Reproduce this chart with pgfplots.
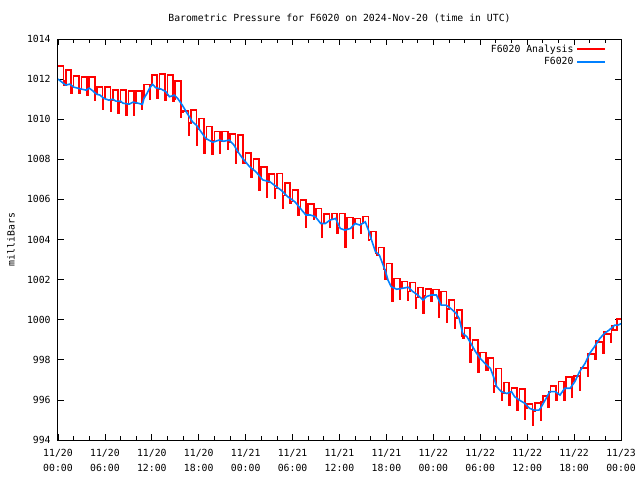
\documentclass[border=0pt]{standalone}
\usepackage{fontspec}
\setmainfont{DejaVu Sans Mono}
\usepackage{pgfplots}
\pgfplotsset{compat=1.18}
\definecolor{obsblue}{RGB}{0,128,255}
\newcommand{\gfont}{\fontsize{7.35}{11.2}\selectfont}
\begin{document}
\begin{tikzpicture}[x=1pt,y=1pt]
\useasboundingbox (0,0) rectangle (480,360);
\begin{axis}[
 at={(43.5pt,30pt)}, anchor=south west,
 scale only axis, width=422.25pt, height=300.75pt,
 xmin=0, xmax=72, ymin=994, ymax=1014,
 xtick={0,6,...,72},
 xticklabels={{11/20\\00:00},{11/20\\06:00},{11/20\\12:00},{11/20\\18:00},{11/21\\00:00},{11/21\\06:00},{11/21\\12:00},{11/21\\18:00},{11/22\\00:00},{11/22\\06:00},{11/22\\12:00},{11/22\\18:00},{11/23\\00:00}},
 minor x tick num=2,
 ytick={994,996,...,1014},
 yticklabels={994,996,998,1000,1002,1004,1006,1008,1010,1012,1014},
 tick align=inside, major tick length=4.5pt, minor tick length=3pt,
 tick style={black, line width=0.6pt},
 axis line style={line width=0.75pt},
 ticklabel style={font=\gfont},
 xticklabel style={align=center, yshift=-3.75pt},
 yticklabel style={xshift=-2pt},
 title={Barometric Pressure for F6020 on 2024-Nov-20 (time in UTC)},
 title style={font=\gfont, at={(axis description cs:0.5,1)}, anchor=base, yshift=7pt},
 ylabel={milliBars},
 ylabel style={font=\gfont, at={(axis description cs:-0.0835,0.5)}, anchor=center},
 legend style={at={(axis description cs:1,1)}, anchor=north east, xshift=-8pt, yshift=0pt, draw=none, fill=none, font=\gfont, row sep=-1.5pt},
 legend cell align=right, legend plot pos=right,
 legend image code/.code={\draw[#1, line width=1.4pt] (0pt,0pt) -- (21pt,0pt);},
]
\addplot[red, line width=1.25pt, const plot] coordinates {
(0,1012.67) (0.7,1011.9) (0.8,1011.7)
(1,1012.45) (1.7,1011.3) (1.8,1011.6)
(2,1012.17) (2.7,1011.3) (2.8,1011.5)
(3,1012.1) (3.7,1011.2) (3.8,1011.55)
(4,1012.1) (4.7,1010.95) (4.8,1011.25)
(5,1011.6) (5.7,1010.5) (5.8,1011.05)
(6,1011.6) (6.7,1010.4) (6.8,1010.95)
(7,1011.45) (7.7,1010.3) (7.8,1010.85)
(8,1011.45) (8.7,1010.2) (8.8,1010.75)
(9,1011.4) (9.7,1010.2) (9.8,1010.78)
(10,1011.41) (10.7,1010.5) (10.8,1011.04)
(11,1011.73) (11.7,1011.0) (11.8,1011.7)
(12,1012.2) (12.7,1011.07) (12.8,1011.52)
(13,1012.24) (13.7,1010.95) (13.8,1011.2)
(14,1012.2) (14.7,1010.9) (14.8,1011.0)
(15,1011.9) (15.7,1010.1) (15.8,1010.35)
(16,1010.4) (16.7,1009.2) (16.8,1009.8)
(17,1010.45) (17.7,1008.7) (17.8,1009.5)
(18,1010.04) (18.7,1008.3) (18.8,1009.0)
(19,1009.63) (19.7,1008.26) (19.8,1008.9)
(20,1009.38) (20.7,1008.3) (20.8,1008.9)
(21,1009.38) (21.7,1008.5) (21.8,1008.85)
(22,1009.27) (22.7,1007.83) (22.8,1008.35)
(23,1009.2) (23.7,1007.8) (23.8,1007.8)
(24,1008.33) (24.7,1007.13) (24.8,1007.45)
(25,1008.0) (25.7,1006.47) (25.8,1007.05)
(26,1007.63) (26.7,1006.13) (26.8,1006.85)
(27,1007.27) (27.7,1006.05) (27.8,1006.55)
(28,1007.3) (28.7,1005.55) (28.8,1006.2)
(29,1006.83) (29.7,1005.8) (29.8,1005.9)
(30,1006.47) (30.7,1005.22) (30.8,1005.55)
(31,1005.97) (31.7,1004.64) (31.8,1005.22)
(32,1005.77) (32.7,1005.0) (32.8,1005.1)
(33,1005.55) (33.7,1004.14) (33.8,1004.8)
(34,1005.27) (34.7,1004.6) (34.8,1005.0)
(35,1005.3) (35.7,1004.3) (35.8,1004.6)
(36,1005.3) (36.7,1003.64) (36.8,1004.5)
(37,1005.1) (37.7,1004.06) (37.8,1004.8)
(38,1005.05) (38.7,1004.3) (38.8,1004.8)
(39,1005.14) (39.7,1003.97) (39.8,1004.0)
(40,1004.4) (40.7,1003.3) (40.8,1003.2)
(41,1003.6) (41.7,1002.5) (41.8,1002.0)
(42,1002.8) (42.7,1000.9) (42.8,1001.55)
(43,1002.06) (43.7,1001.0) (43.8,1001.57)
(44,1001.9) (44.7,1000.95) (44.8,1001.4)
(45,1001.85) (45.7,1000.57) (45.8,1001.1)
(46,1001.6) (46.7,1000.35) (46.8,1001.2)
(47,1001.52) (47.7,1000.9) (47.8,1001.23)
(48,1001.5) (48.7,1000.15) (48.8,1000.75)
(49,1001.4) (49.7,999.9) (49.8,1000.55)
(50,1000.98) (50.7,999.6) (50.8,1000.1)
(51,1000.5) (51.7,999.2) (51.8,999.1)
(52,999.6) (52.7,997.9) (52.8,998.5)
(53,998.99) (53.7,997.4) (53.8,998.07)
(54,998.36) (54.7,997.5) (54.8,997.5)
(55,998.1) (55.7,996.4) (55.8,996.7)
(56,997.57) (56.7,996.0) (56.8,996.35)
(57,996.86) (57.7,995.75) (57.8,996.4)
(58,996.6) (58.7,995.5) (58.8,996.0)
(59,996.53) (59.7,995.03) (59.8,995.6)
(60,995.8) (60.7,994.75) (60.8,995.45)
(61,995.83) (61.7,995.0) (61.8,995.9)
(62,996.2) (62.7,995.66) (62.8,996.4)
(63,996.7) (63.7,996.0) (63.8,996.3)
(64,996.91) (64.7,996.0) (64.8,996.6)
(65,997.13) (65.7,996.13) (65.8,996.95)
(66,997.2) (66.7,996.5) (66.8,997.6)
(67,997.6) (67.7,997.16) (67.8,998.3)
(68,998.3) (68.7,998.02) (68.8,998.95)
(69,998.9) (69.7,998.32) (69.8,999.4)
(70,999.3) (70.7,998.9) (70.8,999.7)
(71,999.5) (71.5,1000.02) (72,1000.02)
};
\addlegendentry{F6020 Analysis}
\addplot[obsblue, line width=1.2pt] coordinates {
(0,1012.0) (0.5,1011.85) (1.0,1011.7) (1.5,1011.75) (2.0,1011.6) (2.5,1011.55)
(3.0,1011.5) (3.6,1011.45) (4.0,1011.55) (4.5,1011.4) (4.9,1011.25) (5.4,1011.2)
(5.8,1011.05) (6.5,1010.95) (7.0,1011.0) (7.4,1010.9) (8.0,1010.9) (8.3,1010.8)
(9.1,1010.75) (9.6,1010.85) (10.2,1010.8) (10.8,1010.74) (11.0,1011.04) (11.4,1011.3)
(11.7,1011.54) (12.1,1011.74) (12.5,1011.57) (13.2,1011.5) (13.8,1011.37) (14.25,1011.12)
(14.9,1011.2) (15.3,1011.04) (15.9,1010.7) (16.4,1010.37) (16.8,1010.12) (17.2,1009.87)
(17.7,1009.7) (18.3,1009.37) (18.9,1009.04) (19.8,1008.85) (20.6,1008.96) (21.2,1008.9)
(21.9,1008.96) (22.5,1008.71) (23.0,1008.38) (23.6,1008.05) (24.5,1007.63) (25.3,1007.38)
(26.2,1006.97) (27.1,1006.88) (27.7,1006.7) (28.5,1006.47) (29.4,1006.13) (30.3,1005.88)
(31.0,1005.55) (31.7,1005.22) (32.3,1005.22) (32.9,1005.14) (33.6,1004.8) (34.2,1004.8)
(34.8,1004.97) (35.5,1005.05) (36.1,1004.55) (36.7,1004.47) (37.4,1004.55) (38.0,1004.8)
(38.6,1004.72) (39.3,1004.88) (39.7,1004.47) (40.1,1003.97) (40.6,1003.39) (41.1,1003.22)
(41.5,1002.81) (41.9,1002.39) (42.2,1001.98) (42.6,1001.65) (43.3,1001.52) (44.1,1001.57)
(44.8,1001.62) (45.4,1001.4) (46.0,1001.23) (46.7,1000.98) (47.1,1001.15) (47.7,1001.23)
(48.4,1001.23) (49.0,1000.73) (49.6,1000.73) (50.2,1000.57) (50.9,1000.32) (51.3,1000.07)
(51.75,999.32) (52.3,999.15) (52.8,998.82) (53.4,998.4) (54.0,998.07) (54.6,997.82)
(55.3,997.57) (55.7,997.15) (56.1,996.66) (56.7,996.41) (57.4,996.32) (58.0,996.41)
(58.4,996.16) (59.0,995.99) (59.7,995.83) (60.3,995.58) (60.9,995.49) (61.5,995.49)
(61.7,995.58) (62.3,995.99) (62.9,996.41) (63.6,996.41) (64.2,996.24) (64.8,996.58)
(65.5,996.58) (66.1,996.91) (66.7,997.41) (67.4,997.82) (68.0,998.32) (68.6,998.65)
(69.3,999.07) (69.9,999.32) (70.5,999.49) (71.2,999.73) (71.6,999.73) (72.0,999.8)
};
\addlegendentry{F6020}
\end{axis}
\end{tikzpicture}
\end{document}
